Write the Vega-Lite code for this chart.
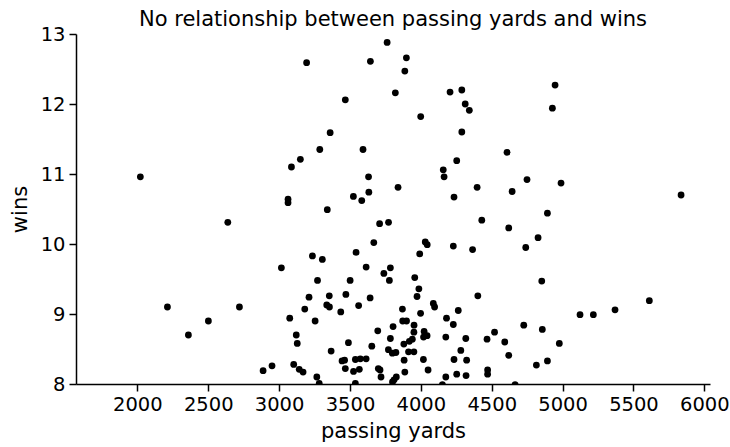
{
  "$schema": "https://vega.github.io/schema/vega-lite/v6.json",
  "width": 634,
  "height": 350,
  "autosize": {"type": "none"},
  "padding": {"left": 76, "top": 34, "right": 20, "bottom": 63},
  "title": {"text": "No relationship between passing yards and wins", "fontSize": 21, "font": "DejaVu Sans", "fontWeight": "normal", "color": "black", "baseline": "alphabetic", "frame": "group", "anchor": "middle", "offset": -23},
  "config": {
    "view": {"stroke": null},
    "font": "DejaVu Sans",
    "axis": {"grid": false, "domainColor": "black", "domainWidth": 1.5, "tickColor": "black", "tickWidth": 1.5, "tickSize": 7, "labelColor": "black", "titleColor": "black", "labelFontSize": 19.5, "titleFontSize": 21, "titleFontWeight": "normal", "labelFont": "DejaVu Sans", "titleFont": "DejaVu Sans", "labelPadding": 4}
  },
  "data": {"values": [
    {"yards": 2021, "wins": 10.96}, {"yards": 2638, "wins": 10.31}, {"yards": 3063, "wins": 10.64}, {"yards": 3063, "wins": 10.59},
    {"yards": 3087, "wins": 11.10}, {"yards": 3150, "wins": 11.21}, {"yards": 3194, "wins": 12.59}, {"yards": 3287, "wins": 11.35},
    {"yards": 3340, "wins": 10.49}, {"yards": 3360, "wins": 11.59}, {"yards": 3467, "wins": 12.06}, {"yards": 3524, "wins": 10.68},
    {"yards": 3583, "wins": 10.62}, {"yards": 3592, "wins": 11.35}, {"yards": 3631, "wins": 10.96}, {"yards": 3633, "wins": 10.74},
    {"yards": 3644, "wins": 12.61}, {"yards": 3709, "wins": 10.29}, {"yards": 3762, "wins": 12.88}, {"yards": 3772, "wins": 10.31},
    {"yards": 3820, "wins": 12.16}, {"yards": 3839, "wins": 10.81}, {"yards": 3887, "wins": 12.47}, {"yards": 3898, "wins": 12.66},
    {"yards": 3999, "wins": 11.82}, {"yards": 4158, "wins": 11.06}, {"yards": 4164, "wins": 10.96}, {"yards": 4206, "wins": 12.17},
    {"yards": 4234, "wins": 10.67}, {"yards": 4253, "wins": 11.19}, {"yards": 4289, "wins": 12.20}, {"yards": 4289, "wins": 11.60},
    {"yards": 4313, "wins": 12.00}, {"yards": 4342, "wins": 11.91}, {"yards": 4397, "wins": 10.81}, {"yards": 4430, "wins": 10.34},
    {"yards": 4608, "wins": 11.31}, {"yards": 4644, "wins": 10.75}, {"yards": 4749, "wins": 10.92}, {"yards": 4893, "wins": 10.44},
    {"yards": 4928, "wins": 11.94}, {"yards": 4947, "wins": 12.27}, {"yards": 4989, "wins": 10.87}, {"yards": 5836, "wins": 10.70},
    {"yards": 3016, "wins": 9.66}, {"yards": 3235, "wins": 9.83}, {"yards": 3305, "wins": 9.78}, {"yards": 3543, "wins": 9.88},
    {"yards": 3614, "wins": 9.67}, {"yards": 3668, "wins": 10.02}, {"yards": 3739, "wins": 9.58}, {"yards": 3785, "wins": 9.66},
    {"yards": 3778, "wins": 9.48}, {"yards": 3271, "wins": 9.48}, {"yards": 3501, "wins": 9.48}, {"yards": 3211, "wins": 9.24},
    {"yards": 3354, "wins": 9.26}, {"yards": 3471, "wins": 9.28}, {"yards": 3642, "wins": 9.23}, {"yards": 3957, "wins": 9.52},
    {"yards": 3986, "wins": 9.36}, {"yards": 3973, "wins": 9.25}, {"yards": 3992, "wins": 9.86}, {"yards": 4031, "wins": 10.03},
    {"yards": 4045, "wins": 9.99}, {"yards": 4229, "wins": 9.97}, {"yards": 4365, "wins": 9.92}, {"yards": 4402, "wins": 9.26},
    {"yards": 4620, "wins": 10.23}, {"yards": 4740, "wins": 9.95}, {"yards": 4827, "wins": 10.09}, {"yards": 4853, "wins": 9.47},
    {"yards": 2212, "wins": 9.10}, {"yards": 2720, "wins": 9.10},
    {"yards": 2501, "wins": 8.90}, {"yards": 2360, "wins": 8.70}, {"yards": 2950, "wins": 8.26}, {"yards": 2887, "wins": 8.19},
    {"yards": 3075, "wins": 8.94}, {"yards": 3121, "wins": 8.70}, {"yards": 3128, "wins": 8.58}, {"yards": 3103, "wins": 8.28},
    {"yards": 3142, "wins": 8.21}, {"yards": 3169, "wins": 8.17}, {"yards": 3181, "wins": 9.07}, {"yards": 3254, "wins": 8.90},
    {"yards": 3266, "wins": 8.10}, {"yards": 3283, "wins": 8.01}, {"yards": 3336, "wins": 9.13}, {"yards": 3355, "wins": 9.10},
    {"yards": 3367, "wins": 8.47}, {"yards": 3435, "wins": 9.03}, {"yards": 3444, "wins": 8.33}, {"yards": 3462, "wins": 8.34},
    {"yards": 3467, "wins": 8.22}, {"yards": 3489, "wins": 8.59}, {"yards": 3525, "wins": 8.18}, {"yards": 3538, "wins": 8.35},
    {"yards": 3538, "wins": 8.01}, {"yards": 3561, "wins": 9.12}, {"yards": 3566, "wins": 8.21}, {"yards": 3573, "wins": 8.36},
    {"yards": 3614, "wins": 8.36}, {"yards": 3654, "wins": 8.54}, {"yards": 3696, "wins": 8.76}, {"yards": 3700, "wins": 8.22},
    {"yards": 3712, "wins": 8.20}, {"yards": 3719, "wins": 8.10}, {"yards": 3771, "wins": 8.49}, {"yards": 3785, "wins": 8.65},
    {"yards": 3799, "wins": 8.44}, {"yards": 3804, "wins": 8.82}, {"yards": 3824, "wins": 8.45}, {"yards": 3827, "wins": 8.10},
    {"yards": 3811, "wins": 8.06}, {"yards": 3800, "wins": 8.03}, {"yards": 3870, "wins": 9.07}, {"yards": 3872, "wins": 8.90},
    {"yards": 3899, "wins": 8.90}, {"yards": 3880, "wins": 8.57}, {"yards": 3882, "wins": 8.34}, {"yards": 3887, "wins": 8.17},
    {"yards": 3913, "wins": 8.46}, {"yards": 3919, "wins": 8.61}, {"yards": 3940, "wins": 8.64}, {"yards": 3951, "wins": 8.46},
    {"yards": 3952, "wins": 8.84}, {"yards": 3951, "wins": 8.74}, {"yards": 3998, "wins": 9.01}, {"yards": 4018, "wins": 8.35},
    {"yards": 4019, "wins": 8.67}, {"yards": 4023, "wins": 8.75}, {"yards": 4044, "wins": 8.69}, {"yards": 4051, "wins": 8.20},
    {"yards": 4088, "wins": 9.15}, {"yards": 4097, "wins": 9.10}, {"yards": 4152, "wins": 7.99}, {"yards": 4176, "wins": 8.10},
    {"yards": 4176, "wins": 8.67}, {"yards": 4181, "wins": 8.94}, {"yards": 4229, "wins": 8.85}, {"yards": 4234, "wins": 8.35},
    {"yards": 4253, "wins": 8.14}, {"yards": 4264, "wins": 9.05}, {"yards": 4282, "wins": 8.48}, {"yards": 4317, "wins": 8.65},
    {"yards": 4323, "wins": 8.34}, {"yards": 4319, "wins": 8.12}, {"yards": 4467, "wins": 8.64}, {"yards": 4471, "wins": 8.20},
    {"yards": 4471, "wins": 8.14}, {"yards": 4520, "wins": 8.74}, {"yards": 4592, "wins": 8.60}, {"yards": 4620, "wins": 8.41},
    {"yards": 4665, "wins": 7.99}, {"yards": 4726, "wins": 8.84}, {"yards": 4815, "wins": 8.27}, {"yards": 4857, "wins": 8.78},
    {"yards": 4893, "wins": 8.33}, {"yards": 4977, "wins": 8.58}, {"yards": 5123, "wins": 8.99}, {"yards": 5217, "wins": 8.99},
    {"yards": 5370, "wins": 9.06}, {"yards": 5612, "wins": 9.19}
  ]},
  "mark": {"type": "point", "filled": true, "color": "black", "opacity": 1, "size": 46, "clip": true},
  "encoding": {
    "x": {"field": "yards", "type": "quantitative", "title": "passing yards",
          "scale": {"domain": [1567, 6040], "nice": false, "zero": false},
          "axis": {"values": [2000, 2500, 3000, 3500, 4000, 4500, 5000, 5500, 6000], "format": "d", "titlePadding": 7}},
    "y": {"field": "wins", "type": "quantitative", "title": "wins",
          "scale": {"domain": [8, 13], "nice": false, "zero": false},
          "axis": {"values": [8, 9, 10, 11, 12, 13], "format": "d", "titlePadding": 10}}
  }
}
